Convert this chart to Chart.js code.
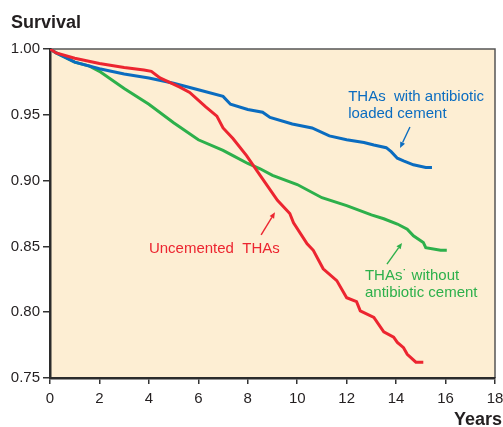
<!DOCTYPE html>
<html><head><meta charset="utf-8">
<script src="https://cdn.jsdelivr.net/npm/chart.js@4"></script>
<style>html,body{margin:0;padding:0;background:#fff;}canvas{display:block;}</style>
</head><body>
<canvas id="c" width="503" height="427"></canvas>
<script>
const xTicks = [0,2,4,6,8,10,12,14,16,18];
const yTicks = [0.75,0.80,0.85,0.90,0.95,1.00];

const blueX = [0,0.25,1,2,3,4,5,6,7,7.3,8,8.6,8.9,9.8,10.6,11.3,12.0,12.7,13.1,13.6,13.8,14.05,14.3,14.7,15.2,15.45];
const blueY = [1.000,0.997,0.990,0.985,0.981,0.978,0.974,0.969,0.964,0.958,0.954,0.952,0.948,0.943,0.940,0.934,0.931,0.929,0.927,0.925,0.922,0.917,0.915,0.912,0.910,0.910];

const greenX = [0,0.25,1,1.6,2,3,4,5,6,7,7.4,8,8.5,9,10,11,12,13,13.5,14.05,14.45,14.7,15.1,15.2,15.8,16.05];
const greenY = [1.000,0.997,0.990,0.987,0.983,0.970,0.958,0.944,0.931,0.923,0.919,0.913,0.909,0.904,0.897,0.887,0.881,0.874,0.871,0.867,0.863,0.858,0.853,0.849,0.847,0.847];

const redX = [0,0.25,1,2,3,3.8,4.1,4.45,5.25,5.65,6.3,6.75,7.0,7.4,7.95,8.5,9.2,9.7,9.85,10.4,10.65,11.05,11.6,12.0,12.4,12.55,13.1,13.5,13.9,14.05,14.3,14.45,14.8,15.1];
const redY = [1.000,0.997,0.993,0.989,0.986,0.984,0.983,0.978,0.971,0.967,0.956,0.949,0.940,0.932,0.919,0.904,0.885,0.875,0.868,0.852,0.847,0.833,0.824,0.811,0.808,0.801,0.796,0.785,0.781,0.777,0.773,0.768,0.762,0.762];

const seriesNames = ["Uncemented THAs","THAs with antibiotic loaded cement","THAs without antibiotic cement"];
const colors = {red:"#ec2530", blue:"#0a6cc0", green:"#2db04b"};

// annotations in data coordinates
const annotations = [
  {lines:["THAs  with antibiotic","loaded cement"], x:12.06, y:[0.9605,0.9476], color:colors.blue, arrow:[14.56,0.9407,14.16,0.9248]},
  {lines:["Uncemented  THAs"], x:4.0, y:[0.845], color:colors.red, arrow:[8.54,0.8587,9.10,0.876]},
  {lines:["THAs\u02D9 without","antibiotic cement"], x:12.74, y:[0.8245,0.8112], color:colors.green, arrow:[13.63,0.8366,14.24,0.8526]}
];

const toPts = (xs, ys) => xs.map((x,i)=>({x:x, y:ys[i]}));

const plotBg = {
  id:'plotBg',
  beforeDraw(chart){
    const {ctx, chartArea:a} = chart;
    ctx.save();
    ctx.fillStyle = '#fdeed3';
    ctx.fillRect(a.left, a.top, a.right-a.left, a.bottom-a.top);
    ctx.strokeStyle = '#555';
    ctx.lineWidth = 1.5;
    ctx.beginPath();
    ctx.moveTo(a.left, a.top); ctx.lineTo(a.right, a.top); ctx.lineTo(a.right, a.bottom);
    ctx.stroke();
    ctx.restore();
  },
  afterDraw(chart){
    const {ctx, scales} = chart;
    const xs = scales.x, ys = scales.y;
    ctx.save();
    ctx.fillStyle = '#231f20';
    ctx.font = 'bold 18px "Liberation Sans", Arial, sans-serif';
    ctx.textBaseline = 'alphabetic';
    ctx.textAlign = 'left';
    ctx.fillText('Survival', 11, 28);
    ctx.textAlign = 'right';
    ctx.fillText('Years', 502, 425);
    ctx.font = '15px "Liberation Sans", Arial, sans-serif';
    ctx.textAlign = 'left';
    annotations.forEach(an => {
      ctx.fillStyle = an.color;
      an.lines.forEach((t,i)=> ctx.fillText(t, xs.getPixelForValue(an.x), ys.getPixelForValue(an.y[i])));
      const [x1,y1,x2,y2] = an.arrow;
      const p1 = [xs.getPixelForValue(x1), ys.getPixelForValue(y1)];
      const p2 = [xs.getPixelForValue(x2), ys.getPixelForValue(y2)];
      const ang = Math.atan2(p2[1]-p1[1], p2[0]-p1[0]);
      const hl = 6, hw = 2.6;
      const bx = p2[0]-hl*Math.cos(ang), by = p2[1]-hl*Math.sin(ang);
      ctx.strokeStyle = an.color; ctx.lineWidth = 1.4;
      ctx.beginPath(); ctx.moveTo(p1[0],p1[1]); ctx.lineTo(bx,by); ctx.stroke();
      ctx.beginPath();
      ctx.moveTo(p2[0],p2[1]);
      ctx.lineTo(bx + hw*Math.sin(ang), by - hw*Math.cos(ang));
      ctx.lineTo(bx - hw*Math.sin(ang), by + hw*Math.cos(ang));
      ctx.closePath(); ctx.fill();
    });
    ctx.restore();
  }
};

new Chart(document.getElementById('c'), {
  type:'line',
  data:{
    datasets:[
      {label:seriesNames[0], data:toPts(redX, redY), borderColor:colors.red, borderWidth:3, pointRadius:0, tension:0, order:1},
      {label:seriesNames[1], data:toPts(blueX, blueY), borderColor:colors.blue, borderWidth:3, pointRadius:0, tension:0, order:2},
      {label:seriesNames[2], data:toPts(greenX, greenY), borderColor:colors.green, borderWidth:3, pointRadius:0, tension:0, order:3}
    ]
  },
  options:{
    responsive:false, animation:false,
    layout:{padding:{left:0, right:8, top:49, bottom:0}},
    plugins:{legend:{display:false}, tooltip:{enabled:false}},
    scales:{
      x:{type:'linear', min:0, max:18,
        afterBuildTicks(ax){ ax.ticks = xTicks.map(v=>({value:v})); },
        afterFit(ax){ ax.height = 49; ax.paddingLeft = 0; ax.paddingRight = 0; },
        grid:{drawOnChartArea:false, drawTicks:true, tickLength:6, color:'#333', lineWidth:1.5},
        border:{color:'#2b2b2b', width:2.5},
        ticks:{color:'#231f20', font:{family:'"Liberation Sans", Arial, sans-serif', size:15}, padding:6, maxRotation:0, autoSkip:false}
      },
      y:{type:'linear', min:0.75, max:1.0,
        afterBuildTicks(ax){ ax.ticks = yTicks.map(v=>({value:v})); },
        afterFit(ax){ ax.width = 50; ax.paddingTop = 0; ax.paddingBottom = 0; },
        grid:{drawOnChartArea:false, drawTicks:true, tickLength:7, color:'#333', lineWidth:1.5},
        border:{color:'#2b2b2b', width:2.5},
        ticks:{color:'#231f20', font:{family:'"Liberation Sans", Arial, sans-serif', size:15}, padding:3, autoSkip:false,
          callback:(v)=>v.toFixed(2)}
      }
    }
  },
  plugins:[plotBg]
});
</script>
</body></html>
